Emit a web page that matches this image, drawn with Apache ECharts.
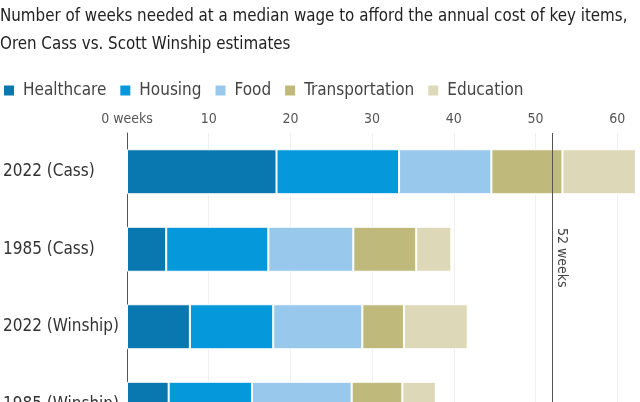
<!DOCTYPE html>
<html>
<head>
<meta charset="utf-8">
<script src="https://cdn.jsdelivr.net/npm/echarts@6/dist/echarts.min.js"></script>
<style>
html,body{margin:0;padding:0;background:#fff;}
#main{width:640px;height:402px;}
</style>
</head>
<body>
<div id="main"></div>
<script>
var categories = ['2022 (Cass)', '1985 (Cass)', '2022 (Winship)', '1985 (Winship)'];
var seriesNames = ['Healthcare', 'Housing', 'Food', 'Transportation', 'Education'];
var healthcare = [18.3, 4.8, 7.7, 5.1];
var housing = [15.0, 12.5, 10.2, 10.2];
var food = [11.3, 10.4, 10.9, 12.2];
var transportation = [8.7, 7.7, 5.1, 6.2];
var education = [9.0, 4.3, 7.8, 4.1];
var xTicks = [0, 10, 20, 30, 40, 50, 60];
var referenceWeeks = 52;

var FONT = "'Liberation Sans Narrow', 'DejaVu Sans Condensed', 'Liberation Sans', sans-serif";
var colors = ['#0a78b0', '#0598da', '#98c9ec', '#bfba7c', '#ddd9b8'];
var values = [healthcare, housing, food, transportation, education];

var chart = echarts.init(document.getElementById('main'), null, {renderer: 'canvas'});

var series = seriesNames.map(function (name, i) {
  var s = {
    name: name,
    type: 'bar',
    stack: 'total',
    barWidth: 45,
    data: values[i],
    itemStyle: {color: colors[i], borderColor: '#fff', borderWidth: 1},
    emphasis: {disabled: true}
  };
  if (i === seriesNames.length - 1) {
    s.markLine = {
      silent: true,
      symbol: ['none', 'none'],
      animation: false,
      lineStyle: {color: '#555', width: 1, type: 'solid'},
      label: {
        show: true,
        position: 'insideStartTop',
        distance: [95, 3],
        formatter: referenceWeeks + ' weeks',
        fontFamily: FONT,
        fontSize: 14,
        color: '#444'
      },
      data: [{xAxis: referenceWeeks}]
    };
  }
  return s;
});

chart.setOption({
  animation: false,
  textStyle: {fontFamily: FONT},
  title: {
    text: 'Number of weeks needed at a median wage to afford the annual cost of key items,\nOren Cass vs. Scott Winship estimates',
    left: 0,
    top: 3,
    padding: 0,
    textStyle: {fontFamily: FONT, fontSize: 16.8, fontWeight: 'normal', color: '#222', lineHeight: 28}
  },
  legend: {
    data: seriesNames,
    left: 2,
    top: 82,
    padding: 0,
    icon: 'rect',
    itemWidth: 12,
    itemHeight: 12,
    itemGap: 12,
    textStyle: {fontFamily: FONT, fontSize: 17, color: '#444', padding: [0, 0, 0, 3]}
  },
  grid: {left: 127, right: 2.4, top: 133, bottom: -41, outerBoundsMode: 'none', containLabel: false},
  xAxis: {
    type: 'value',
    position: 'top',
    min: 0,
    max: 62.5,
    interval: 10,
    axisLine: {show: false},
    axisTick: {show: false},
    splitLine: {show: true, showMinLine: false, showMaxLine: false, lineStyle: {color: '#f0f0f0', width: 1}},
    axisLabel: {
      show: true,
      showMaxLabel: false,
      margin: 7,
      fontFamily: FONT,
      fontSize: 14,
      color: '#555',
      formatter: function (v) {
        if (xTicks.indexOf(v) < 0) return '';
        return v === 0 ? '0 weeks' : String(v);
      }
    }
  },
  yAxis: {
    type: 'category',
    inverse: true,
    data: categories,
    axisLine: {show: true, lineStyle: {color: '#555', width: 1}},
    axisTick: {show: false},
    splitLine: {show: false},
    axisLabel: {
      align: 'left',
      margin: 124,
      fontFamily: FONT,
      fontSize: 17,
      color: '#333'
    }
  },
  series: series
});
</script>
</body>
</html>
